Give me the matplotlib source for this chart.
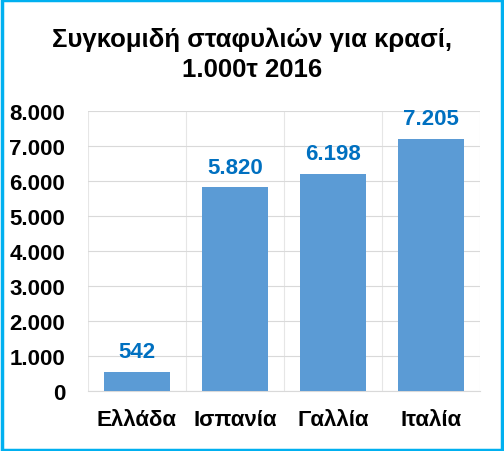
import matplotlib
matplotlib.use("Agg")
import matplotlib.pyplot as plt
from matplotlib.patches import Rectangle
from matplotlib.ticker import FuncFormatter, FixedLocator

categories = ["Ελλάδα", "Ισπανία", "Γαλλία", "Ιταλία"]
values = [542, 5820, 6198, 7205]
yticks = [0, 1000, 2000, 3000, 4000, 5000, 6000, 7000, 8000]
title = "Συγκομιδή σταφυλιών για κρασί,\n1.000τ 2016"

def fmt(v):
    return f"{int(v):,}".replace(",", ".")

plt.rcParams['font.family'] = ['Liberation Sans', 'DejaVu Sans']
plt.rcParams['font.weight'] = 'bold'

fig = plt.figure(figsize=(5.04, 4.52), dpi=100)
ax = fig.add_axes([88/504, 1-392/452, (480-88)/504, (392-112)/452])

x = list(range(len(categories)))
ax.bar(x, values, width=0.67, color="#5B9BD5", zorder=3)
for xi, v in zip(x, values):
    ax.annotate(fmt(v), (xi, v), xytext=(0, 7), textcoords="offset points",
                ha="center", va="bottom", color="#0070C0", fontsize=16, fontweight="bold")

ax.set_xlim(-0.5, len(categories) - 0.5)
ax.set_ylim(0, 8000)
ax.set_yticks(yticks)
ax.yaxis.set_major_formatter(FuncFormatter(lambda v, p: fmt(v)))
ax.set_xticks(x)
ax.set_xticklabels(categories)
ax.xaxis.set_minor_locator(FixedLocator([i - 0.5 for i in range(len(categories) + 1)]))
ax.tick_params(axis="both", which="both", length=0, labelsize=16)
ax.tick_params(axis="y", pad=16.5)
ax.tick_params(axis="x", pad=13)
ax.grid(axis="y", which="major", color="#D9D9D9", linewidth=0.8, zorder=0)
ax.grid(axis="x", which="minor", color="#E6E6E6", linewidth=0.8, zorder=0)
for s in ["top", "left", "right"]:
    ax.spines[s].set_visible(False)
ax.spines["bottom"].set_color("#D9D9D9")
ax.spines["bottom"].set_linewidth(0.8)

fig.text(0.5, 1 - 55/452, title, ha="center", va="center", fontsize=18.5,
         fontweight="bold", linespacing=1.3)

fig.patches.append(Rectangle((0.003, 0.003), 0.994, 0.994, transform=fig.transFigure,
                             fill=False, edgecolor="#00B0F0", linewidth=2.5))

fig.savefig("out.png", dpi=100)
